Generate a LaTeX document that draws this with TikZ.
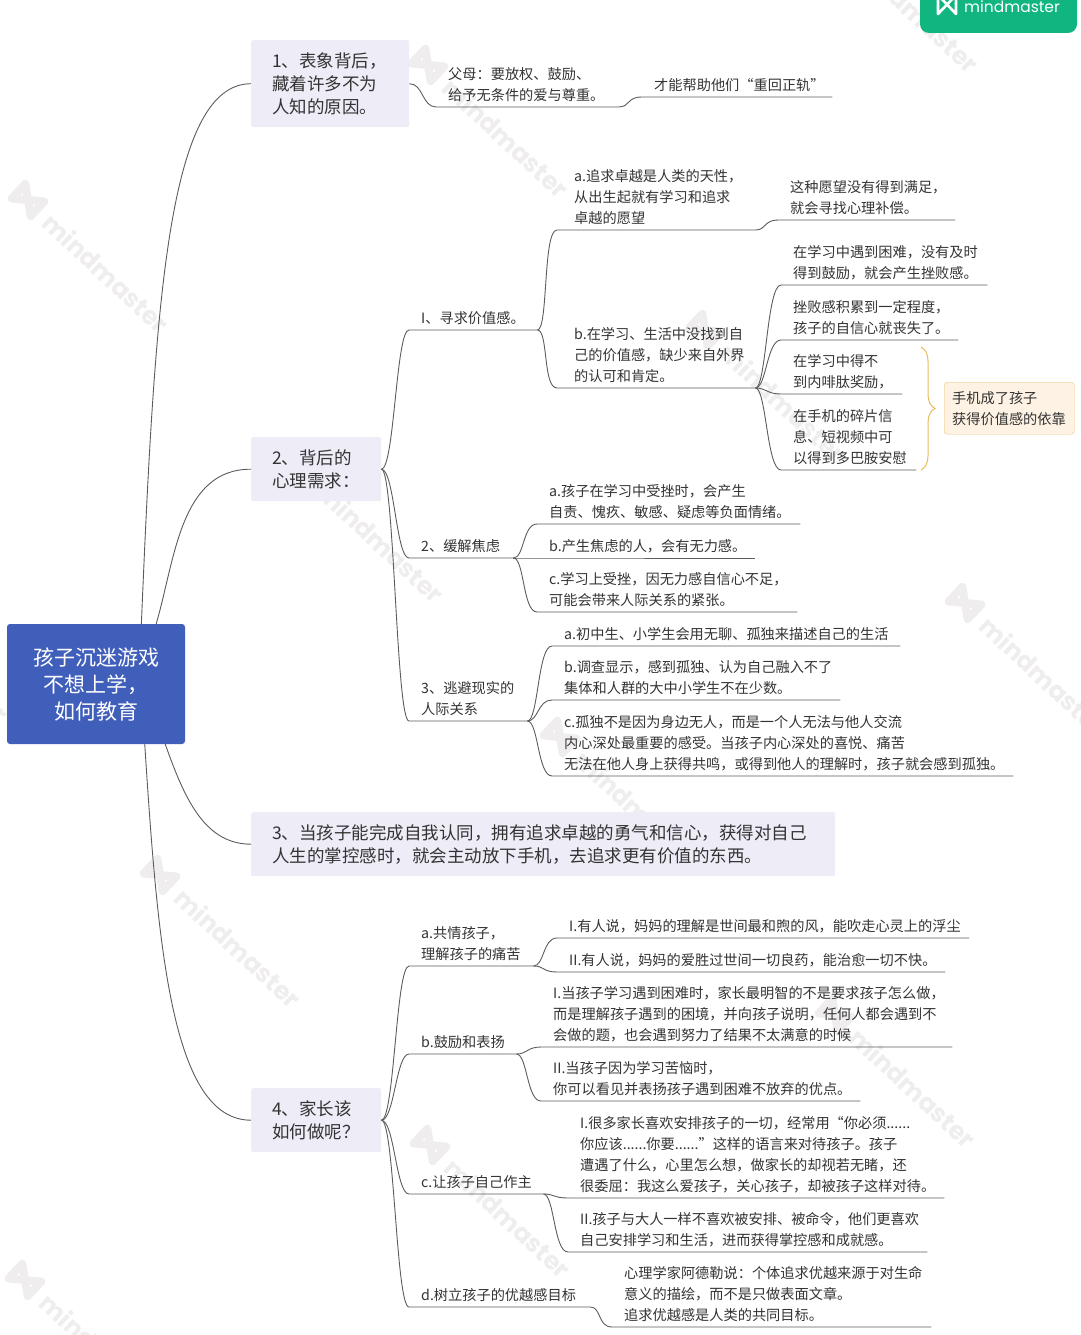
\documentclass[tikz,border=0pt]{standalone}
\usepackage{fontspec}
\setmainfont{Noto Sans CJK SC}
\newfontfamily\markfont{Poppins}
\usetikzlibrary{decorations.pathreplacing}
\definecolor{rootblue}{HTML}{405FBB}
\definecolor{topicfill}{HTML}{EEECF7}
\definecolor{linegrey}{HTML}{5C5C5C}
\definecolor{textgrey}{HTML}{333333}
\definecolor{markgrey}{HTML}{EFEDEE}
\definecolor{braceline}{HTML}{E8BC5E}
\definecolor{notefill}{HTML}{FDF2E3}
\definecolor{noteline}{HTML}{EFC46F}
\definecolor{badgegreen}{HTML}{10B57F}
\tikzset{
  leaf/.style={anchor=south west,inner xsep=12pt,inner ysep=5pt,align=left,text=textgrey,
    font=\fontsize{14.2}{21}\selectfont},
  topic/.style={anchor=north west,fill=topicfill,rounded corners=2pt,inner xsep=21pt,inner ysep=0pt,
    align=left,text=textgrey,font=\fontsize{17.5}{23}\selectfont},
  link/.style={draw=linegrey,line width=.9pt}
}
\begin{document}
\begin{tikzpicture}[x=1pt,y=-1pt]
  \useasboundingbox (0,0) rectangle (1080,1335);
  \clip (0,0) rectangle (1080,1335);
  % watermark
  \foreach \px/\py [count=\i] in {28/200,428/65,303/470,705/330,560/737,965/603,160/875,835/1015,430/1145,25/1280,838/-60,-132/590}{
    \begin{scope}[shift={(\px,\py)},rotate=-43,transform shape]
      \draw[markgrey,line width=8pt,line join=round] (-13,-10) -- (13,10) -- (13,-10) -- (-13,10) -- cycle;
      \node[anchor=west,inner sep=0pt,text=markgrey,font=\markfont\bfseries\fontsize{25}{25}\selectfont] (mark\i) at (26,0) {mindmaster};
    \end{scope}
  }
  % badge
  \fill[badgegreen,rounded corners=9pt] (920,-12) rectangle (1077,33);
  \draw[white,line width=2.6pt,line join=round] (938,-5) -- (956,14) -- (956,-5) -- (938,14) -- cycle;
  \node[inner sep=0pt,text=white,font=\markfont\fontsize{15.5}{18}\selectfont] (brand) at (1012,7) {mindmaster};
  % main nodes
  \node[fill=rootblue,rounded corners=3pt,minimum width=178pt,minimum height=120pt,align=center,text=white,
    font=\fontsize{21}{27}\selectfont] (root) at (96,684) {孩子沉迷游戏\\不想上学，\\如何教育};
  \node[topic,text width=116pt,minimum height=87pt] (top1) at (251,40) {1、表象背后，\\藏着许多不为\\人知的原因。};
  \node[topic,text width=88pt,minimum height=64pt] (top2) at (251,437) {2、背后的\\心理需求：};
  \node[topic,text width=542pt,minimum height=64pt] (top3) at (251,812) {3、当孩子能完成自我认同，拥有追求卓越的勇气和信心，获得对自己\\人生的掌控感时，就会主动放下手机，去追求更有价值的东西。};
  \node[topic,text width=88pt,minimum height=64pt] (top4) at (251,1088) {4、家长该\\如何做呢？};
  % first branch
  \node[leaf,text width=158pt] (parent) at (436,107) {父母：要放权、鼓励、\\给予无条件的爱与尊重。};
  \node[leaf,text width=166pt] (track) at (642,97) {才能帮助他们“重回正轨”};
  % second branch
  \node[leaf,text width=104pt] (seek) at (409,330) {I、寻求价值感。};
  \node[leaf,inner xsep=17pt,text width=164pt] (seeka) at (557,230) {a.追求卓越是人类的天性，\\从出生起就有学习和追求\\卓越的愿望};
  \node[leaf,text width=153pt] (seekaa) at (778,220) {这种愿望没有得到满足，\\就会寻找心理补偿。};
  \node[leaf,inner xsep=17pt,text width=164pt] (seekb) at (557,388) {b.在学习、生活中没找到自\\己的价值感，缺少来自外界\\的认可和肯定。};
  \node[leaf,text width=182pt] (seekba) at (781,285) {在学习中遇到困难，没有及时\\得到鼓励，就会产生挫败感。};
  \node[leaf,text width=153pt] (seekbb) at (781,340) {挫败感积累到一定程度，\\孩子的自信心就丧失了。};
  \node[leaf,text width=97pt] (seekbc) at (781,394) {在学习中得不\\到内啡肽奖励，};
  \node[leaf,text width=111pt] (seekbd) at (781,470) {在手机的碎片信\\息、短视频中可\\以得到多巴胺安慰};
  \node[anchor=north west,fill=notefill,draw=noteline,rounded corners=3pt,inner xsep=8pt,inner ysep=0pt,
    text width=114pt,minimum height=52pt,align=left,text=textgrey,
    font=\fontsize{14.2}{21}\selectfont] (phone) at (944,382) {手机成了孩子\\获得价值感的依靠};
  \node[leaf,text width=80pt] (ease) at (409,558) {2、缓解焦虑};
  \node[leaf,text width=239pt] (easea) at (537,524) {a.孩子在学习中受挫时，会产生\\自责、愧疚、敏感、疑虑等负面情绪。};
  \node[leaf,text width=194pt] (easeb) at (537,558) {b.产生焦虑的人，会有无力感。};
  \node[leaf,text width=236pt] (easec) at (537,612) {c.学习上受挫，因无力感自信心不足，\\可能会带来人际关系的紧张。};
  \node[leaf,text width=94pt] (flee) at (409,721) {3、逃避现实的\\人际关系};
  \node[leaf,text width=324pt] (fleea) at (552,646) {a.初中生、小学生会用无聊、孤独来描述自己的生活};
  \node[leaf,text width=264pt] (fleeb) at (552,700) {b.调查显示，感到孤独、认为自己融入不了\\集体和人群的大中小学生不在少数。};
  \node[leaf,text width=437pt] (fleec) at (552,776) {c.孤独不是因为身边无人，而是一个人无法与他人交流\\内心深处最重要的感受。当孩子内心深处的喜悦、痛苦\\无法在他人身上获得共鸣，或得到他人的理解时，孩子就会感到孤独。};
  % fourth branch
  \node[leaf,text width=100pt] (feel) at (409,966) {a.共情孩子，\\理解孩子的痛苦};
  \node[leaf,text width=388pt] (feela) at (557,938) {I.有人说，妈妈的理解是世间最和煦的风，能吹走心灵上的浮尘};
  \node[leaf,text width=364pt] (feelb) at (557,972) {II.有人说，妈妈的爱胜过世间一切良药，能治愈一切不快。};
  \node[leaf,text width=83pt] (praise) at (409,1054) {b.鼓励和表扬};
  \node[leaf,text width=387pt] (praisea) at (541,1047) {I.当孩子学习遇到困难时，家长最明智的不是要求孩子怎么做，\\而是理解孩子遇到的困境，并向孩子说明，任何人都会遇到不\\会做的题，也会遇到努力了结果不太满意的时候};
  \node[leaf,text width=295pt] (praiseb) at (541,1101) {II.当孩子因为学习苦恼时，\\你可以看见并表扬孩子遇到困难不放弃的优点。};
  \node[leaf,text width=110pt] (own) at (409,1194) {c.让孩子自己作主};
  \node[leaf,text width=352pt] (owna) at (568,1198) {I.很多家长喜欢安排孩子的一切，经常用“你必须......\\你应该......你要......”这样的语言来对待孩子。孩子\\遭遇了什么，心里怎么想，做家长的却视若无睹，还\\很委屈：我这么爱孩子，关心孩子，却被孩子这样对待。};
  \node[leaf,text width=335pt] (ownb) at (568,1252) {II.孩子与大人一样不喜欢被安排、被命令，他们更喜欢\\自己安排学习和生活，进而获得掌控感和成就感。};
  \node[leaf,text width=157pt] (goal) at (409,1307) {d.树立孩子的优越感目标};
  \node[leaf,text width=295pt] (goala) at (612,1327) {心理学家阿德勒说：个体追求优越来源于对生命\\意义的描绘，而不是只做表面文章。\\追求优越感是人类的共同目标。};
  % connectors from the root
  \draw[link] (root.53) .. controls (155,300) and (168,84) .. (top1.west);
  \draw[link] (root.45) .. controls (175,560) and (180,469) .. (top2.west);
  \draw[link] (root.-41) .. controls (185,800) and (205,844) .. (top3.west);
  \draw[link] (root.-51) .. controls (158,950) and (172,1120) .. (top4.west);
  % connectors to the topics
  \foreach \a/\b/\c in {top1/parent/14,top2/seek/13,top2/ease/13,top2/flee/13,top4/feel/13,top4/praise/13,top4/own/13,top4/goal/13}{
    \draw[link] (\a.east) .. controls +(\c,0) and +(-\c,0) .. (\b.south west) -- (\b.south east);
  }
  % connectors between leaves
  \foreach \a/\b/\c in {parent/track/12,seek/seeka/11,seek/seekb/11,seeka/seekaa/11,seekb/seekba/11,seekb/seekbb/11,seekb/seekbc/11,seekb/seekbd/11,
    ease/easea/11,ease/easeb/11,ease/easec/11,flee/fleea/11,flee/fleeb/11,flee/fleec/11,feel/feela/11,feel/feelb/11,
    praise/praisea/11,praise/praiseb/11,own/owna/11,own/ownb/11,goal/goala/11}{
    \draw[link] (\a.south east) .. controls +(\c,0) and +(-1.3*\c,0) .. (\b.south west) -- (\b.south east);
  }
  % brace in front of the note
  \coordinate (bractop) at (921,347);
  \coordinate (bracbot) at (921,470);
  \draw[braceline,line width=1pt,decorate,decoration={brace,amplitude=14pt}] (bractop) -- (bracbot);
\end{tikzpicture}
\end{document}
